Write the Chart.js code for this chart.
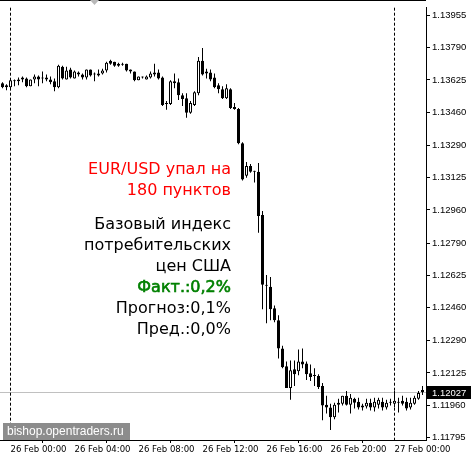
<!DOCTYPE html>
<html lang="ru">
<head>
  <meta charset="UTF-8" />
  <title>EUR/USD M15</title>
  <script src="https://cdn.jsdelivr.net/npm/chart.js"></script>
  <style>
    html, body { margin: 0; padding: 0; background: #fff; }
    canvas { display: block; }
  </style>
</head>
<body>
  <canvas id="grafico" width="471" height="458"></canvas>

  <script>
    // velas de 15 minutos, 25-27 feb
    const apertura = [1.13608,1.13588,1.13588,1.13623,1.13628,1.13638,1.13633,1.13593,1.13628,1.13643,
      1.13638,1.13638,1.13628,1.13618,1.13588,1.13693,1.13628,1.13678,1.13633,1.13663,
      1.13653,1.13638,1.13678,1.13653,1.13658,1.13658,1.13673,1.13723,1.13718,1.13698,
      1.13708,1.13708,1.13678,1.13668,1.13623,1.13638,1.13628,1.13638,1.13663,1.13663,
      1.13638,1.13502,1.13502,1.13618,1.13613,1.13547,1.13532,1.13457,1.13497,1.13557,
      1.13723,1.13668,1.13663,1.13638,1.13598,1.13578,1.13532,1.13578,1.13487,1.13477,
      1.13301,1.13135,1.13185,1.13155,1.13155,1.12934,1.12572,1.12567,1.12456,1.12395,
      1.12250,1.12159,1.12048,1.12144,1.12134,1.12184,1.12174,1.12124,1.12109,1.12109,
      1.12058,1.11963,1.11948,1.11898,1.11963,1.11968,1.12008,1.11963,1.11993,1.11978,
      1.11948,1.11953,1.11973,1.11948,1.11963,1.11978,1.11948,1.11973,1.11968,1.11978,
      1.11983,1.11978,1.11948,1.11968,1.11993,1.12038];
    const maximo = [1.13613,1.13603,1.13628,1.13628,1.13638,1.13643,1.13638,1.13628,1.13653,1.13648,
      1.13668,1.13653,1.13643,1.13633,1.13703,1.13698,1.13693,1.13688,1.13673,1.13668,
      1.13658,1.13678,1.13678,1.13663,1.13678,1.13683,1.13718,1.13728,1.13718,1.13713,
      1.13713,1.13708,1.13678,1.13668,1.13643,1.13643,1.13648,1.13668,1.13708,1.13678,
      1.13643,1.13517,1.13623,1.13658,1.13633,1.13557,1.13557,1.13517,1.13567,1.13743,
      1.13789,1.13683,1.13678,1.13658,1.13608,1.13593,1.13603,1.13583,1.13507,1.13482,
      1.13306,1.13205,1.13195,1.13160,1.13200,1.12954,1.12627,1.12617,1.12471,1.12421,
      1.12265,1.12184,1.12189,1.12189,1.12245,1.12250,1.12184,1.12169,1.12149,1.12119,
      1.12074,1.12008,1.11968,1.11973,1.11993,1.12008,1.12033,1.12018,1.11998,1.11998,
      1.11968,1.11993,1.11993,1.11998,1.11998,1.11998,1.11988,1.11993,1.12033,1.11998,
      1.12008,1.11998,1.11998,1.12008,1.12033,1.12058];
    const minimo = [1.13583,1.13572,1.13583,1.13593,1.13598,1.13613,1.13588,1.13593,1.13608,1.13593,
      1.13608,1.13618,1.13603,1.13567,1.13583,1.13628,1.13628,1.13633,1.13633,1.13643,
      1.13628,1.13628,1.13643,1.13618,1.13643,1.13653,1.13663,1.13703,1.13693,1.13693,
      1.13698,1.13668,1.13658,1.13618,1.13623,1.13633,1.13628,1.13633,1.13643,1.13628,
      1.13492,1.13472,1.13497,1.13583,1.13522,1.13492,1.13432,1.13452,1.13492,1.13547,
      1.13648,1.13633,1.13618,1.13583,1.13557,1.13527,1.13527,1.13477,1.13472,1.13296,
      1.13110,1.13125,1.13150,1.13100,1.12843,1.12451,1.12380,1.12395,1.12385,1.12199,
      1.12149,1.12048,1.11988,1.12058,1.12114,1.12149,1.12089,1.12084,1.12058,1.12043,
      1.11883,1.11918,1.11833,1.11888,1.11923,1.11958,1.11958,1.11918,1.11943,1.11938,
      1.11933,1.11943,1.11933,1.11928,1.11943,1.11933,1.11938,1.11958,1.11948,1.11923,
      1.11958,1.11933,1.11938,1.11963,1.11988,1.12013];
    const cierre = [1.13588,1.13598,1.13623,1.13618,1.13618,1.13628,1.13593,1.13628,1.13643,1.13628,
      1.13633,1.13628,1.13613,1.13588,1.13698,1.13633,1.13673,1.13638,1.13668,1.13653,
      1.13638,1.13678,1.13648,1.13653,1.13648,1.13673,1.13713,1.13708,1.13698,1.13708,
      1.13703,1.13673,1.13668,1.13623,1.13643,1.13638,1.13643,1.13658,1.13653,1.13633,
      1.13497,1.13502,1.13618,1.13608,1.13547,1.13527,1.13457,1.13507,1.13562,1.13723,
      1.13653,1.13658,1.13628,1.13588,1.13578,1.13532,1.13583,1.13482,1.13477,1.13301,
      1.13115,1.13185,1.13155,1.13155,1.12929,1.12577,1.12572,1.12451,1.12395,1.12250,
      1.12154,1.12048,1.12139,1.12119,1.12184,1.12169,1.12119,1.12104,1.12109,1.12053,
      1.11958,1.11948,1.11898,1.11963,1.11973,1.12008,1.11963,1.11998,1.11973,1.11948,
      1.11958,1.11973,1.11948,1.11978,1.11988,1.11948,1.11973,1.11973,1.11983,1.11973,
      1.11968,1.11943,1.11973,1.11998,1.12023,1.12027];

    const preciosEje = [1.13955,1.13790,1.13625,1.13460,1.13290,1.13125,1.12960,
      1.12790,1.12625,1.12460,1.12290,1.12125,1.11960,1.11795];
    const horasIdx = [2, 18, 34, 50, 66, 82, 98];
    const horasTxt = ['26 Feb 00:00','26 Feb 04:00','26 Feb 08:00','26 Feb 12:00',
      '26 Feb 16:00','26 Feb 20:00','27 Feb 00:00'];
    const separadores = [2, 98];
    const precioActual = 1.12027;

    const textos = ['EUR/USD упал на', '180 пунктов', 'Базовый индекс', 'потребительских',
      'цен США', 'Факт.:0,2%', 'Прогноз:0,1%', 'Пред.:0,0%'];
    const coloresTexto = ['#ff0000', '#ff0000', '#000', '#000', '#000', '#008000', '#000', '#000'];

    const colorCuerpo = apertura.map((a, i) => cierre[i] >= a ? '#ffffff' : '#000000');

    const extras = {
      id: 'extras',
      beforeDatasetsDraw(chart) {
        const { ctx, chartArea: a, scales: { x, y } } = chart;
        ctx.save();
        const yp = Math.floor(y.getPixelForValue(precioActual)) + 0.5;
        ctx.strokeStyle = '#c0c0c0';
        ctx.lineWidth = 1;
        ctx.beginPath(); ctx.moveTo(a.left, yp); ctx.lineTo(a.right, yp); ctx.stroke();

        ctx.strokeStyle = '#000';
        ctx.setLineDash([3, 2]);
        separadores.forEach(i => {
          const xp = Math.floor(x.getPixelForValue(i)) + 0.5;
          ctx.beginPath(); ctx.moveTo(xp, a.top); ctx.lineTo(xp, a.bottom); ctx.stroke();
        });
        ctx.restore();
      },
      afterDraw(chart) {
        const { ctx, chartArea: a, scales: { y } } = chart;
        ctx.save();
        // linea superior
        ctx.strokeStyle = '#000';
        ctx.beginPath(); ctx.moveTo(a.left, 0.5); ctx.lineTo(a.right, 0.5); ctx.stroke();

        // marcador gris arriba
        ctx.fillStyle = '#b8b8b8';
        ctx.beginPath(); ctx.moveTo(90, 0); ctx.lineTo(99, 0); ctx.lineTo(94.5, 5); ctx.closePath(); ctx.fill();

        // etiqueta del precio actual
        const yp = Math.floor(y.getPixelForValue(precioActual)) + 0.5;
        ctx.fillStyle = '#000';
        ctx.fillRect(a.right + 1, yp - 6.5, chart.width - a.right - 1, 13);
        ctx.fillStyle = '#fff';
        ctx.font = '9.5px "Liberation Sans", Arial, sans-serif';
        ctx.textBaseline = 'middle';
        ctx.textAlign = 'left';
        ctx.fillText(precioActual.toFixed(5), a.right + 6, yp + 0.5);

        // marca de agua
        ctx.fillStyle = '#8c8c8c';
        ctx.fillRect(3, a.bottom - 17, 127, 17);
        ctx.fillStyle = '#fff';
        ctx.font = '12px "Liberation Sans", Arial, sans-serif';
        ctx.fillText('bishop.opentraders.ru', 7, a.bottom - 8);

        // comentario (dos bloques)
        ctx.textAlign = 'right';
        ctx.textBaseline = 'alphabetic';
        ctx.font = '16px "DejaVu Sans", sans-serif';
        ctx.lineWidth = 0.6;
        textos.forEach((t, i) => {
          const yb = i < 2 ? 174 + i * 21 : 229 + (i - 2) * 21;
          ctx.fillStyle = coloresTexto[i];
          ctx.fillText(t, 231, yb);
          if (i === 5) { ctx.strokeStyle = coloresTexto[i]; ctx.strokeText(t, 231, yb); }
        });
        ctx.restore();
      }
    };

    const ctx = document.getElementById('grafico').getContext('2d');
    new Chart(ctx, {
      type: 'bar',
      data: {
        datasets: [
          {
            label: 'Mechas',
            data: maximo.map((h, i) => ({ x: i, y: [minimo[i], h] })),
            backgroundColor: '#000',
            borderWidth: 0,
            barThickness: 1,
            inflateAmount: 0,
            grouped: false,
            order: 2
          },
          {
            label: 'Cuerpos',
            data: apertura.map((o, i) => ({ x: i, y: [o, cierre[i]] })),
            backgroundColor: colorCuerpo,
            borderColor: '#000',
            borderWidth: 1,
            borderSkipped: false,
            barThickness: 3,
            minBarLength: 1,
            inflateAmount: 0,
            grouped: false,
            order: 1
          }
        ]
      },
      options: {
        responsive: false,
        animation: false,
        layout: { padding: 0 },
        plugins: { legend: { display: false }, tooltip: { enabled: false } },
        scales: {
          x: {
            type: 'linear',
            min: -0.625,
            max: 105.875,
            offset: false,
            afterBuildTicks: s => { s.ticks = horasIdx.map(v => ({ value: v })); },
            afterFit: s => { s.height = 18; },
            grid: { drawOnChartArea: false, drawTicks: true, tickLength: 3, color: '#000' },
            border: { display: true, color: '#000' },
            ticks: {
              autoSkip: false, maxRotation: 0, minRotation: 0, align: 'start', padding: 1,
              color: '#000',
              font: { family: '"Liberation Sans Narrow", "DejaVu Sans Condensed", sans-serif', size: 9.5 },
              callback: (v, i) => horasTxt[i]
            }
          },
          y: {
            position: 'right',
            min: 1.11782,
            max: 1.13995,
            afterBuildTicks: s => { s.ticks = preciosEje.map(v => ({ value: v })); },
            afterFit: s => { s.width = 45; },
            grid: { drawOnChartArea: false, drawTicks: true, tickLength: 4, color: '#000' },
            border: { display: true, color: '#000' },
            ticks: {
              padding: 2, color: '#000',
              font: { family: '"Liberation Sans", Arial, sans-serif', size: 9.5 },
              callback: v => v.toFixed(5)
            }
          }
        }
      },
      plugins: [extras]
    });
  </script>
</body>
</html>
